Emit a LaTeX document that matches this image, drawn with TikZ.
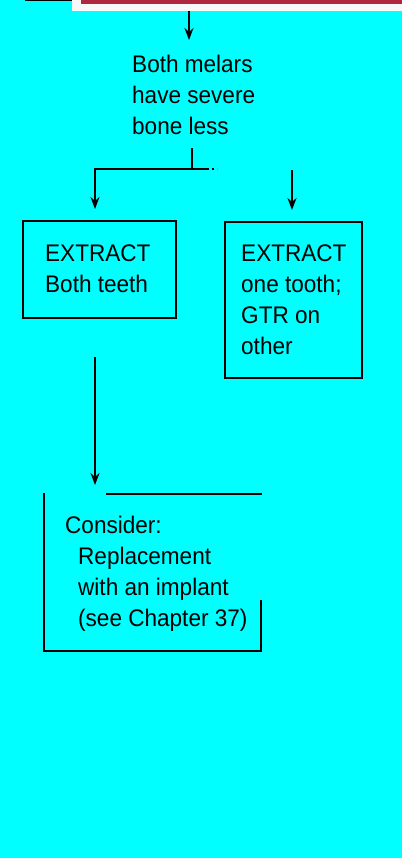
\documentclass[tikz,border=0pt]{standalone}
\usepackage{fontspec}
\setmainfont{Liberation Sans}[FakeStretch=0.94]
\usetikzlibrary{arrows.meta}
\definecolor{bg}{HTML}{00FFFF}
\definecolor{band}{HTML}{B0263E}
\definecolor{paper}{HTML}{F8F8F8}
\begin{document}
\begin{tikzpicture}[x=1pt,y=-1pt,
  box/.style={draw=black,line width=1.7pt,inner sep=0pt,anchor=north west},
  txt/.style={anchor=north west,inner sep=0pt,align=left,font=\fontsize{24}{31}\selectfont},
  conn/.style={draw=black,line width=1.7pt},
  arr/.style={conn,-{Stealth[length=12pt,width=9pt]}}]
\fill[bg] (0,0) rectangle (402,858);
\useasboundingbox (0,0) rectangle (402,858);
% top strip
\node[fill=paper,inner sep=0pt,minimum width=330pt,minimum height=10.5pt,anchor=north west] (bar) at (72,0) {};
\fill[band] (81,0) rectangle (402,4);
\fill[black] (25,0) rectangle (72,1.3);
% top arrow
\coordinate (a1) at (189,40);
\draw[arr] (a1 |- bar.south) -- (a1);
% question text
\node[txt] (q) at (132,54.5) {Both melars\\have severe\\bone less};
% split
\coordinate (js) at (192,148);
\coordinate (j) at (192,169);
\coordinate (jr) at (207,169);
\coordinate (ltip) at (95,209);
\draw[conn] (js) -- (j);
\draw[arr] (jr) -- (ltip |- j) -- (ltip);
\draw[conn,dash pattern=on 2pt off 3pt] (jr) -- (217,169);
\coordinate (rs) at (292,170);
\coordinate (rt) at (292,210);
\draw[arr] (rs) -- (rt);
% boxes
\node[box,minimum width=153pt,minimum height=97pt] (lbox) at (22,220) {};
\node[txt] (lt) at (45,244.5) {EXTRACT\\Both teeth};
\node[box,minimum width=137pt,minimum height=156pt] (rbox) at (224,221) {};
\node[txt] (rtx) at (241,244.5) {EXTRACT\\one tooth;\\GTR on\\other};
% down arrow
\coordinate (ds) at (95,357);
\coordinate (dt) at (95,485);
\draw[arr] (ds) -- (dt);
% bottom broken box
\draw[conn] (106,494) -- (262,494);
\draw[conn] (44,493) -- (44,651) -- (261,651) -- (261,600);
\node[txt] (c) at (65,515.5) {Consider:\\\hspace*{13pt}Replacement\\\hspace*{13pt}with an implant\\\hspace*{13pt}(see Chapter 37)};
\end{tikzpicture}
\end{document}
